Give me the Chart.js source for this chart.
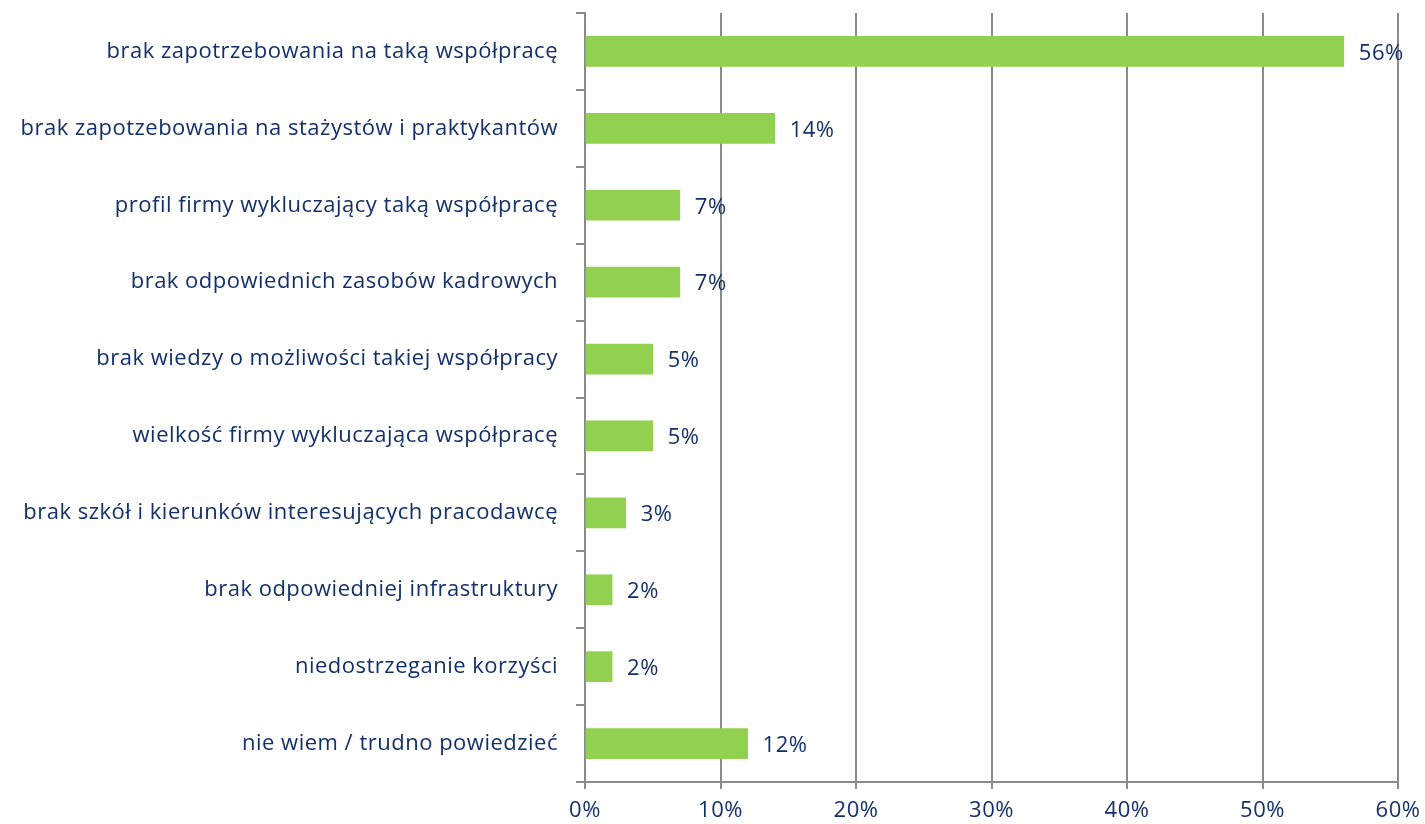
<!DOCTYPE html>
<html>
<head>
<meta charset="utf-8">
<script src="https://cdn.jsdelivr.net/npm/chart.js@4/dist/chart.umd.min.js"></script>
<style>
  html, body { margin: 0; padding: 0; background: #fff; }
  #wrap { width: 1425px; height: 824px; }
</style>
</head>
<body>
<div id="wrap"><canvas id="chart" width="1425" height="824"></canvas></div>
<script>
const categories = [
  'brak zapotrzebowania na taką współpracę',
  'brak zapotzebowania na stażystów i praktykantów',
  'profil firmy wykluczający taką współpracę',
  'brak odpowiednich zasobów kadrowych',
  'brak wiedzy o możliwości takiej współpracy',
  'wielkość firmy wykluczająca współpracę',
  'brak szkół i kierunków interesujących pracodawcę',
  'brak odpowiedniej infrastruktury',
  'niedostrzeganie korzyści',
  'nie wiem / trudno powiedzieć'
];
const values = [56, 14, 7, 7, 5, 5, 3, 2, 2, 12];
const xTicks = [0, 10, 20, 30, 40, 50, 60];

const textColor = '#13306b';
const gridColor = '#8a8a8a';
const fontFamily = 'Open Sans, sans-serif';
const fontSize = 22;

// lekko rozstrzelony tekst, żeby szerokość pasowała do oryginału
const spacing = {
  id: 'spacing',
  beforeDraw(chart) { chart.ctx.letterSpacing = '0.5px'; }
};

// etykiety wartości za słupkami
const valueLabels = {
  id: 'valueLabels',
  afterDatasetsDraw(chart) {
    const ctx = chart.ctx;
    const meta = chart.getDatasetMeta(0);
    ctx.save();
    ctx.font = fontSize + 'px ' + fontFamily;
    ctx.fillStyle = textColor;
    ctx.textAlign = 'left';
    ctx.textBaseline = 'middle';
    meta.data.forEach((bar, i) => {
      ctx.fillText(values[i] + '%', bar.x + 15, bar.y + 2);
    });
    ctx.restore();
  }
};

new Chart(document.getElementById('chart').getContext('2d'), {
  type: 'bar',
  data: {
    labels: categories,
    datasets: [{
      data: values,
      backgroundColor: '#92d050',
      borderWidth: 0,
      barThickness: 30
    }]
  },
  options: {
    indexAxis: 'y',
    responsive: false,
    animation: false,
    layout: { padding: { top: 13, right: 27, bottom: 0, left: 0 } },
    plugins: {
      legend: { display: false },
      tooltip: { enabled: false }
    },
    scales: {
      x: {
        min: 0,
        max: 60,
        afterBuildTicks: axis => { axis.ticks = xTicks.map(v => ({ value: v })); },
        afterFit: axis => {
          axis.height = 42;
          axis.paddingLeft = 0;
          axis.paddingRight = 0;
        },
        ticks: {
          callback: v => v + '%',
          color: textColor,
          font: { family: fontFamily, size: fontSize },
          padding: 9
        },
        grid: { color: gridColor, lineWidth: 2, tickLength: 7 },
        border: { color: gridColor, width: 2 }
      },
      y: {
        afterFit: axis => {
          axis.width = 585;
          axis.paddingTop = 0;
          axis.paddingBottom = 0;
        },
        ticks: {
          color: textColor,
          font: { family: fontFamily, size: fontSize },
          padding: 18
        },
        grid: { offset: true, drawOnChartArea: false, color: gridColor, lineWidth: 2, tickLength: 9 },
        border: { color: gridColor, width: 2 }
      }
    }
  },
  plugins: [spacing, valueLabels]
});
</script>
</body>
</html>
